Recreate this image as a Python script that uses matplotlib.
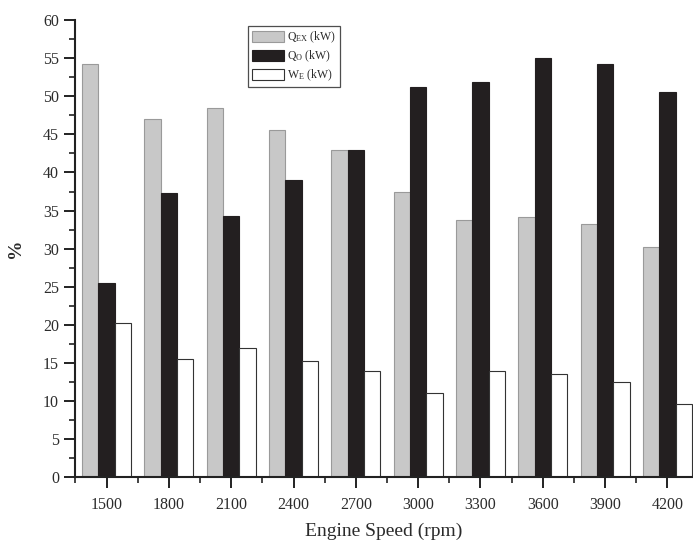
import numpy as np
import matplotlib
matplotlib.use("Agg")
import matplotlib.pyplot as plt
from matplotlib.ticker import MultipleLocator, FixedLocator

speeds = ['1500', '1800', '2100', '2400', '2700', '3000', '3300', '3600', '3900', '4200']
q_ex = [54.2, 47.0, 48.4, 45.6, 42.9, 37.4, 33.8, 34.1, 33.2, 30.2]
q_o = [25.5, 37.3, 34.3, 39.0, 42.9, 51.2, 51.9, 55.0, 54.2, 50.6]
w_e = [20.3, 15.5, 17.0, 15.3, 14.0, 11.1, 14.0, 13.6, 12.5, 9.6]
labels = [r'Q$_{EX}$ (kW)', r'Q$_{O}$ (kW)', r'W$_{E}$ (kW)']

plt.rcParams['font.family'] = ['Liberation Serif', 'DejaVu Serif']
plt.rcParams['mathtext.default'] = 'regular'
txt = '#2b2b2b'

fig = plt.figure(figsize=(6.93, 5.51), dpi=100)
ax = fig.add_axes([0.1082, 0.1334, 0.8918, 0.8303])

x = np.arange(len(speeds))
w = 0.262
ax.bar(x - w, q_ex, w, color='#c8c8c8', edgecolor='#9a9a9a', linewidth=0.8, label=labels[0])
ax.bar(x, q_o, w, color='#231f20', edgecolor='#231f20', linewidth=0.8, label=labels[1])
ax.bar(x + w, w_e, w, color='white', edgecolor='#333333', linewidth=0.8, label=labels[2])

ax.set_xlim(-0.507, 9.41)
ax.set_ylim(0, 60)
ax.set_xticks(x)
ax.set_xticklabels(speeds)
ax.xaxis.set_minor_locator(FixedLocator(np.arange(-0.5, 10, 1)))
ax.yaxis.set_major_locator(MultipleLocator(5))
ax.yaxis.set_minor_locator(MultipleLocator(2.5))

for s in ['top', 'right']:
    ax.spines[s].set_visible(False)
for s in ['left', 'bottom']:
    ax.spines[s].set_linewidth(1.5)
    ax.spines[s].set_color('#222222')

ax.tick_params(which='major', length=8, width=1.4, color='#222222', labelsize=11.5, labelcolor=txt, direction='out')
ax.tick_params(which='minor', length=4, width=1.2, color='#222222', direction='out')
ax.tick_params(axis='x', pad=6)

ax.set_xlabel('Engine Speed (rpm)', fontsize=14, color=txt, labelpad=7)
ax.set_ylabel('%', fontsize=14, color=txt, fontweight='bold', labelpad=14)

leg = ax.legend(loc='upper left', bbox_to_anchor=(0.27, 1.0), fontsize=8.5,
                frameon=True, fancybox=False, edgecolor='#222222',
                handlelength=2.7, handleheight=1.0, handletextpad=0.3,
                labelspacing=0.3, borderpad=0.35, labelcolor=txt)
leg.get_frame().set_linewidth(0.9)

fig.savefig('out.png', dpi=100)
